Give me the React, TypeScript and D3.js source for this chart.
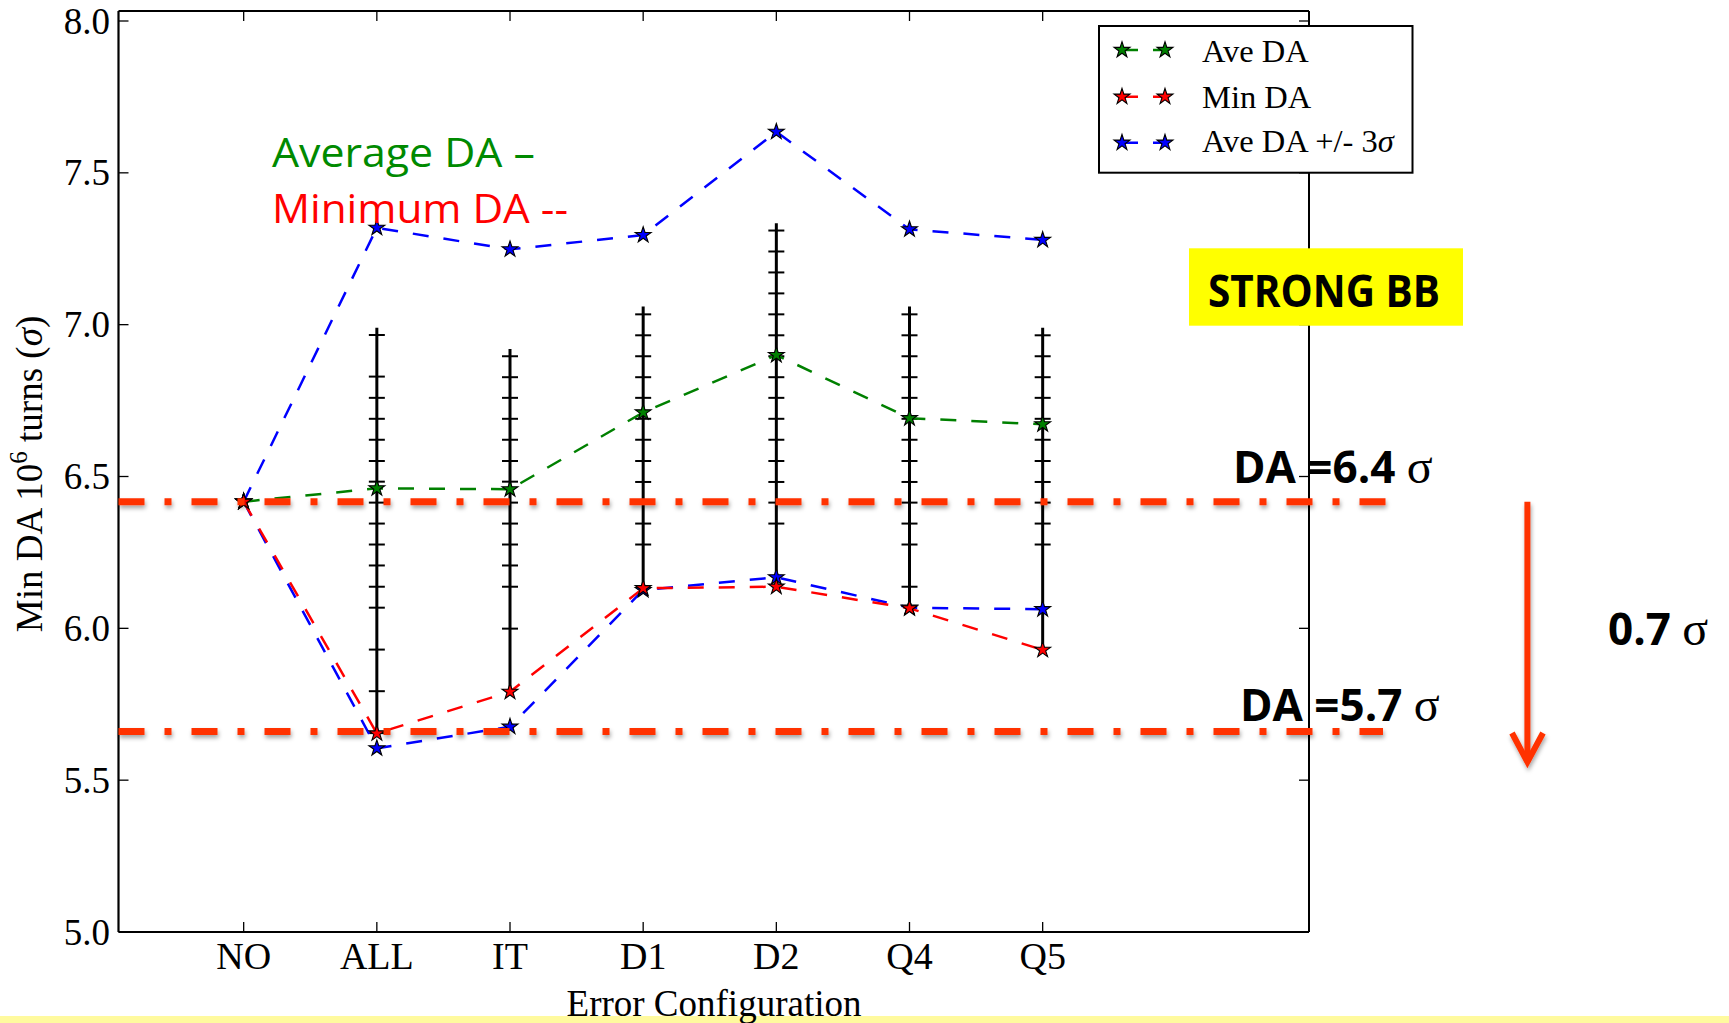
import React from "react";
import * as d3 from "d3";

const categories = ["NO", "ALL", "IT", "D1", "D2", "Q4", "Q5"];
const aveDA = [6.417, 6.461, 6.458, 6.711, 6.9, 6.692, 6.672];
const minDA = [6.417, 5.654, 5.791, 6.132, 6.137, 6.066, 5.929];
const aveMinus3Sigma = [6.417, 5.605, 5.676, 6.126, 6.168, 6.068, 6.063];
const avePlus3Sigma = [6.417, 7.319, 7.248, 7.295, 7.635, 7.314, 7.279];

const barTop = [null, 6.99, 6.92, 7.06, 7.334, 7.06, 6.99];
const barBottom = [null, 5.654, 5.791, 6.132, 6.137, 6.066, 5.929];
const barCaps = [
  [],
  [6.966, 6.829, 6.759, 6.69, 6.621, 6.551, 6.483, 6.414, 6.345, 6.276, 6.207, 6.137, 6.068, 5.93, 5.793, 5.655],
  [6.896, 6.827, 6.759, 6.69, 6.621, 6.551, 6.483, 6.414, 6.345, 6.276, 6.207, 6.137, 5.999],
  [7.034, 6.965, 6.896, 6.827, 6.759, 6.69, 6.621, 6.551, 6.482, 6.414, 6.345, 6.276],
  [7.31, 7.241, 7.172, 7.103, 7.034, 6.965, 6.896, 6.827, 6.759, 6.69, 6.621, 6.551, 6.482, 6.414, 6.345],
  [7.034, 6.965, 6.896, 6.827, 6.759, 6.69, 6.621, 6.551, 6.482, 6.414, 6.345, 6.276, 6.137],
  [6.965, 6.896, 6.827, 6.759, 6.69, 6.621, 6.551, 6.482, 6.414, 6.345, 6.276],
];

const yTicks = [5.0, 5.5, 6.0, 6.5, 7.0, 7.5, 8.0];
const thresholdValues = [6.417, 5.66];
const thresholdLabels = ["DA =6.4 ", "DA =5.7 "];
const legendLabels = ["Ave DA", "Min DA", "Ave DA +/- 3"];
const seriesColors = ["#008000", "#ff0000", "#0000ff"];

const W = 1729;
const H = 1023;
const left = 118.5;
const right = 1309;
const bottom = 932;
const spineTop = 11;

const x = d3.scaleLinear().domain([-0.94, 8]).range([left, right]);
const y = d3.scaleLinear().domain([5, 8]).range([bottom, 21]);

const serif = "'Liberation Serif', 'Times New Roman', serif";
const sans = "'Open Sans', 'Noto Sans', sans-serif";

const star = d3.symbol().type(d3.symbolStar).size(78);

function Series({ values, color }: { values: number[]; color: string }) {
  const line = d3
    .line<number>()
    .x((_, i) => x(i))
    .y((v) => y(v));
  return (
    <g>
      <path d={line(values) || ""} fill="none" stroke={color} strokeWidth={2.5} strokeDasharray="16,15" />
      {values.map((v, i) => (
        <path key={i} d={star() || ""} transform={`translate(${x(i)},${y(v)})`} fill={color} stroke="#000" strokeWidth={1.1} />
      ))}
    </g>
  );
}

export default function App() {
  const redLine = "#ff3300";
  const thresholdEnds = [1392, 1383];
  const thresholdLabelPos = [
    { x: 1233, y: 483 },
    { x: 1240, y: 720.5 },
  ];
  const legendRows = [50, 96.7, 142.7];
  const legendTextY = [62.3, 108.3, 151.7];

  return (
    <svg
      width={W}
      height={H}
      viewBox={`0 0 ${W} ${H}`}
      style={{ position: "absolute", left: 0, top: 0, display: "block", background: "#fff" }}
    >
      <defs>
        <filter id="shadow" filterUnits="userSpaceOnUse" x={0} y={0} width={W} height={H}>
          <feDropShadow dx="1" dy="3" stdDeviation="2" floodColor="#000" floodOpacity="0.35" />
        </filter>
      </defs>
      <rect x={0} y={0} width={W} height={H} fill="#fff" />
      <rect x={0} y={1016} width={W} height={7} fill="#fffa9e" />

      {/* axes frame */}
      <line x1={left} x2={right} y1={spineTop} y2={spineTop} stroke="#000" strokeWidth={2.2} />
      <line x1={left} x2={right} y1={bottom} y2={bottom} stroke="#000" strokeWidth={2.2} />
      <line x1={left} x2={left} y1={spineTop} y2={bottom} stroke="#000" strokeWidth={2.2} />
      <line x1={right} x2={right} y1={spineTop} y2={bottom} stroke="#000" strokeWidth={2} />

      {/* y ticks */}
      {yTicks.map((t) => (
        <g key={t}>
          <line x1={left} x2={left + 10} y1={y(t)} y2={y(t)} stroke="#000" strokeWidth={1.3} />
          <line x1={right - 10} x2={right} y1={y(t)} y2={y(t)} stroke="#000" strokeWidth={1.3} />
          <text x={110} y={y(t) + 12.5} textAnchor="end" fontFamily={serif} fontSize={37}>
            {d3.format(".1f")(t)}
          </text>
        </g>
      ))}

      {/* x ticks */}
      {categories.map((c, i) => (
        <g key={c}>
          <line x1={x(i)} x2={x(i)} y1={bottom} y2={bottom - 10} stroke="#000" strokeWidth={1.3} />
          <line x1={x(i)} x2={x(i)} y1={spineTop} y2={spineTop + 10} stroke="#000" strokeWidth={1.3} />
          <text x={x(i)} y={969} textAnchor="middle" fontFamily={serif} fontSize={38}>
            {c}
          </text>
        </g>
      ))}

      <text x={714} y={1016} textAnchor="middle" fontFamily={serif} fontSize={37}>
        Error Configuration
      </text>
      <text transform="translate(42,474) rotate(-90)" textAnchor="middle" fontFamily={serif} fontSize={37}>
        Min DA 10
        <tspan fontSize={25} dy={-15}>6</tspan>
        <tspan dy={15}> turns (</tspan>
        <tspan fontStyle="italic">σ</tspan>)
      </text>

      {/* error bars */}
      {categories.map((c, i) => {
        const t = barTop[i];
        const b = barBottom[i];
        if (t == null || b == null) return null;
        return (
          <g key={"eb" + c}>
            <line x1={x(i)} x2={x(i)} y1={y(t)} y2={y(b)} stroke="#000" strokeWidth={3} />
            {barCaps[i].map((v, k) => (
              <line key={k} x1={x(i) - 8} x2={x(i) + 8} y1={y(v)} y2={y(v)} stroke="#000" strokeWidth={2} />
            ))}
          </g>
        );
      })}

      {/* series */}
      <Series values={aveMinus3Sigma} color={seriesColors[2]} />
      <Series values={avePlus3Sigma} color={seriesColors[2]} />
      <Series values={aveDA} color={seriesColors[0]} />
      <Series values={minDA} color={seriesColors[1]} />

      {/* legend */}
      <rect x={1099} y={26} width={313.5} height={146.7} fill="#fff" stroke="#000" strokeWidth={2} />
      {legendLabels.map((lab, k) => (
        <g key={lab}>
          <line x1={1122} x2={1165} y1={legendRows[k]} y2={legendRows[k]} stroke={seriesColors[k]} strokeWidth={2.5} strokeDasharray="16,15" />
          <path d={star() || ""} transform={`translate(1122,${legendRows[k]})`} fill={seriesColors[k]} stroke="#000" strokeWidth={1.1} />
          <path d={star() || ""} transform={`translate(1165,${legendRows[k]})`} fill={seriesColors[k]} stroke="#000" strokeWidth={1.1} />
          <text x={1202} y={legendTextY[k]} fontFamily={serif} fontSize={32.5}>
            {lab}
            {k === 2 ? <tspan fontStyle="italic">σ</tspan> : null}
          </text>
        </g>
      ))}

      {/* annotations */}
      <text x={272} y={166.7} fontFamily={sans} fontSize={40} fill="#008a00" textLength={263} lengthAdjust="spacingAndGlyphs">
        Average DA –
      </text>
      <text x={272} y={222.7} fontFamily={sans} fontSize={40} fill="#ff0000" textLength={296} lengthAdjust="spacingAndGlyphs">
        Minimum DA --
      </text>

      <rect x={1189} y={248.3} width={274} height={77.4} fill="#ffff00" />
      <text x={1208} y={306.7} fontFamily={sans} fontWeight="bold" fontSize={44} fill="#000" textLength={232} lengthAdjust="spacingAndGlyphs">
        STRONG BB
      </text>

      {/* threshold lines */}
      {thresholdValues.map((v, k) => (
        <g key={"th" + k}>
          <line
            x1={left}
            x2={thresholdEnds[k]}
            y1={y(v)}
            y2={y(v)}
            stroke={redLine}
            strokeWidth={7}
            strokeDasharray="26,20,7,20"
            filter="url(#shadow)"
          />
          <text x={thresholdLabelPos[k].x} y={thresholdLabelPos[k].y} fontFamily={sans} fontWeight="bold" fontSize={44} fill="#000">
            {thresholdLabels[k]}
            <tspan fontFamily={serif} fontWeight="normal" fontSize={48}>σ</tspan>
          </text>
        </g>
      ))}

      {/* arrow */}
      <g filter="url(#shadow)" stroke={redLine} strokeWidth={6} fill="none" strokeLinecap="butt">
        <line x1={1527.4} x2={1527.4} y1={y(thresholdValues[0])} y2={760} />
        <polyline points="1512,733 1527.4,762 1543,733" strokeLinejoin="miter" />
      </g>
      <text x={1608} y={645} fontFamily={sans} fontWeight="bold" fontSize={44} fill="#000">
        0.7 <tspan fontFamily={serif} fontWeight="normal" fontSize={48}>σ</tspan>
      </text>
    </svg>
  );
}
